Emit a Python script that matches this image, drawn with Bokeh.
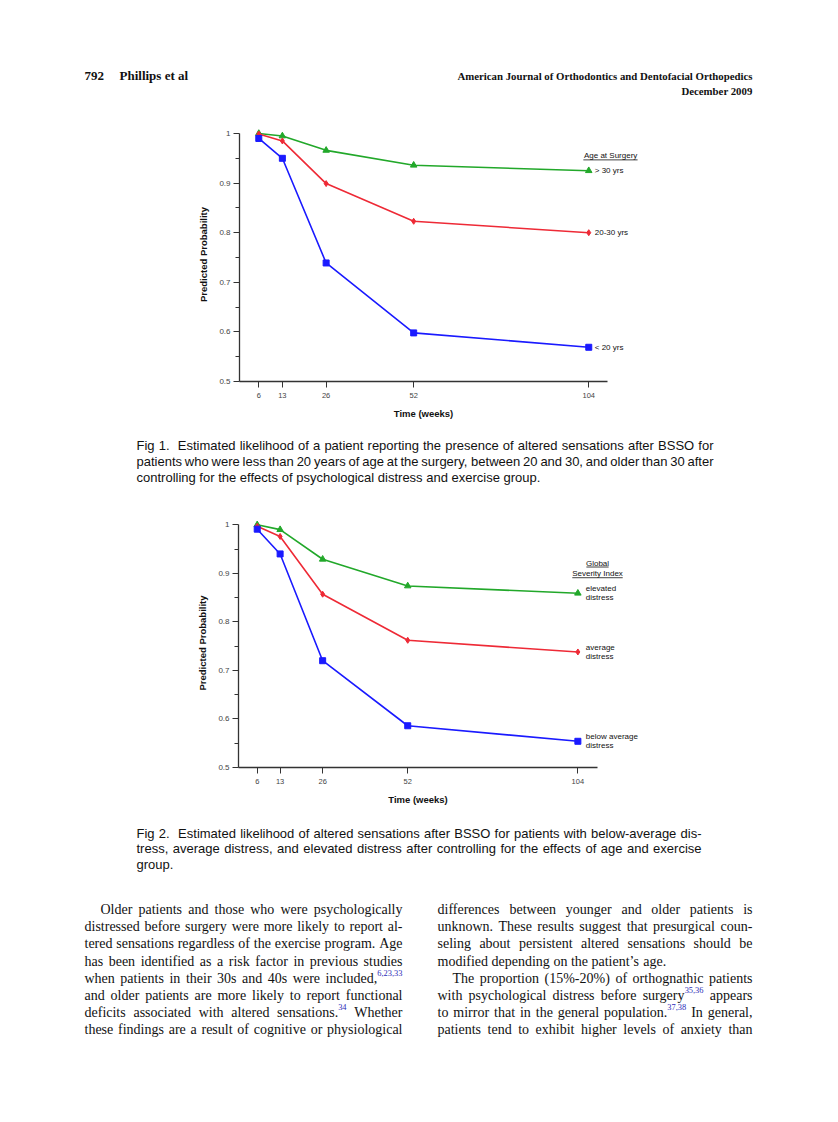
import re
from bokeh.plotting import figure
from bokeh.models import Range1d, FixedTicker, CustomJSTickFormatter
from bokeh.layouts import column
from bokeh.core.properties import value
from bokeh.embed import file_html
from bokeh.resources import INLINE

# ---------------- data ----------------
weeks = [6, 13, 26, 52, 104]
y_ticks = [0.5, 0.6, 0.7, 0.8, 0.9, 1.0]
y_minor = [0.55, 0.65, 0.75, 0.85, 0.95]

fig1_gt30 = [1.000, 0.995, 0.966, 0.936, 0.925]
fig1_20to30 = [0.999, 0.985, 0.899, 0.823, 0.800]
fig1_lt20 = [0.990, 0.950, 0.739, 0.598, 0.569]
fig1_labels = ["> 30 yrs", "20-30 yrs", "< 20 yrs"]
fig1_title = "Age at Surgery"

fig2_elevated = [1.000, 0.990, 0.929, 0.874, 0.859]
fig2_average = [0.997, 0.976, 0.857, 0.762, 0.738]
fig2_below = [0.991, 0.940, 0.720, 0.586, 0.554]
fig2_labels = [["elevated", "distress"], ["average", "distress"], ["below average", "distress"]]
fig2_title = ["Global", "Severity Index"]

header_left = ["792", "Phillips et al"]
header_right = ["American Journal of Orthodontics and Dentofacial Orthopedics", "December 2009"]

caption1 = [
    "Fig 1.  Estimated likelihood of a patient reporting the presence of altered sensations after BSSO for",
    "patients who were less than 20 years of age at the surgery, between 20 and 30, and older than 30 after",
    "controlling for the effects of psychological distress and exercise group.",
]
caption2 = [
    "Fig 2.  Estimated likelihood of altered sensations after BSSO for patients with below-average dis-",
    "tress, average distress, and elevated distress after controlling for the effects of age and exercise",
    "group.",
]
body_left = [
    "Older patients and those who were psychologically",
    "distressed before surgery were more likely to report al-",
    "tered sensations regardless of the exercise program. Age",
    "has been identified as a risk factor in previous studies",
    "when patients in their 30s and 40s were included,{6,23,33}",
    "and older patients are more likely to report functional",
    "deficits associated with altered sensations.{34} Whether",
    "these findings are a result of cognitive or physiological",
]
body_right = [
    "differences between younger and older patients is",
    "unknown. These results suggest that presurgical coun-",
    "seling about persistent altered sensations should be",
    "modified depending on the patient\u2019s age.",
    "The proportion (15%-20%) of orthognathic patients",
    "with psychological distress before surgery{35,36} appears",
    "to mirror that in the general population.{37,38} In general,",
    "patients tend to exhibit higher levels of anxiety than",
]

# ---------------- font metrics (per 1000 em) ----------------
TIMES = {' ': 250, '!': 333, '%': 833, "'": 333, '\u2019': 333, '(': 333, ')': 333, ',': 250, '-': 333,
         '.': 250, ':': 278, ';': 278, 'A': 722, 'B': 667, 'C': 667, 'D': 722, 'E': 611, 'F': 556,
         'G': 722, 'H': 722, 'I': 333, 'J': 389, 'K': 722, 'L': 611, 'M': 889, 'N': 722, 'O': 722,
         'P': 556, 'Q': 722, 'R': 667, 'S': 556, 'T': 611, 'U': 722, 'V': 722, 'W': 944, 'X': 722,
         'Y': 722, 'Z': 611, 'a': 444, 'b': 500, 'c': 444, 'd': 500, 'e': 444, 'f': 333, 'g': 500,
         'h': 500, 'i': 278, 'j': 278, 'k': 500, 'l': 278, 'm': 778, 'n': 500, 'o': 500, 'p': 500,
         'q': 500, 'r': 333, 's': 389, 't': 278, 'u': 500, 'v': 500, 'w': 722, 'x': 500, 'y': 500,
         'z': 444}
for d in "0123456789":
    TIMES[d] = 500
HELV = {' ': 278, '!': 278, '%': 889, '(': 333, ')': 333, ',': 278, '-': 333, '.': 278, ':': 278,
        'A': 667, 'B': 667, 'C': 722, 'D': 722, 'E': 667, 'F': 611, 'G': 778, 'H': 722, 'I': 278,
        'J': 500, 'K': 667, 'L': 556, 'M': 833, 'N': 722, 'O': 778, 'P': 667, 'Q': 778, 'R': 722,
        'S': 667, 'T': 611, 'U': 722, 'V': 667, 'W': 944, 'X': 667, 'Y': 667, 'Z': 611, 'a': 556,
        'b': 556, 'c': 500, 'd': 556, 'e': 556, 'f': 278, 'g': 556, 'h': 556, 'i': 222, 'j': 222,
        'k': 500, 'l': 222, 'm': 833, 'n': 556, 'o': 556, 'p': 556, 'q': 556, 'r': 333, 's': 500,
        't': 278, 'u': 556, 'v': 500, 'w': 722, 'x': 500, 'y': 500, 'z': 500}
for d in "0123456789":
    HELV[d] = 556


def tw(s, size, table):
    return sum(table.get(c, 500) for c in s) * size / 1000.0


def set_lines(lines, x0, x1, baselines, size, table, justify, indents=None, sup_scale=0.6):
    xs, ys, ts, sx, sy, st = [], [], [], [], [], []
    for i, line in enumerate(lines):
        start = x0 + (indents[i] if indents else 0)
        toks = line.split(" ")
        parsed = []
        for t in toks:
            m = re.match(r"^(.*?)\{([^}]*)\}$", t)
            if m:
                parsed.append((m.group(1), m.group(2)))
            else:
                parsed.append((t, ""))
        widths = [tw(a, size, table) + tw(b, size * sup_scale, table) for a, b in parsed]
        n = len(parsed)
        if justify[i] and n > 1:
            gap = (x1 - start - sum(widths)) / (n - 1)
        else:
            gap = table[' '] * size / 1000.0
        x = start
        for (a, b), w in zip(parsed, widths):
            if a:
                xs.append(x); ys.append(baselines[i]); ts.append(a)
            if b:
                sx.append(x + tw(a, size, table)); sy.append(baselines[i] - size * 0.38); st.append(b)
            x += w + gap
    return (xs, ys, ts), (sx, sy, st)


W = 830


def text_fig(h, top):
    p = figure(width=W, height=h, x_range=Range1d(0, W), y_range=Range1d(top + h, top),
               x_axis_type=None, y_axis_type=None, toolbar_location=None, output_backend="svg",
               min_border=0, title=None, frame_align=False)
    p.outline_line_color = None
    p.background_fill_color = "white"
    return p


INK = "#111111"

# ---------------- header ----------------
ph = text_fig(115, 0)
ph.text(x=[84, 119], y=[75.3, 75.3], text=header_left, text_font=value("Liberation Serif"),
        text_font_size="13px", text_font_style="bold", text_color=INK, text_baseline="alphabetic")
ph.text(x=[752, 752], y=[75.3, 90], text=header_right, text_font=value("Liberation Serif"),
        text_font_size="10.8px", text_font_style="bold", text_color=INK, text_baseline="alphabetic",
        text_align="right")


# ---------------- charts ----------------
GREEN = "#22a82a"
RED = "#ee2a36"
BLUE = "#1a1aff"
SANS = "Liberation Sans"


def chart(h, L, fw, T, B, x0, ppw, ppu, series):
    fh = h - T - B
    p = figure(width=W, height=h, x_range=Range1d(x0, x0 + fw / ppw),
               y_range=Range1d(0.5, 0.5 + fh / ppu), min_border_left=L, min_border_right=W - L - fw,
               min_border_top=T, min_border_bottom=B, toolbar_location=None,
               output_backend="svg", title=None, frame_align=False)
    p.outline_line_color = None
    p.grid.visible = False
    p.xaxis.ticker = FixedTicker(ticks=weeks)
    p.yaxis.ticker = FixedTicker(ticks=y_ticks, minor_ticks=y_minor)
    p.yaxis.bounds = (0.5, 1.0)
    p.yaxis.formatter = CustomJSTickFormatter(
        code="return Math.abs(tick-1)<1e-9 ? '1' : tick.toFixed(1);")
    for ax in (p.xaxis[0], p.yaxis[0]):
        ax.axis_line_color = "#333333"
        ax.axis_line_width = 1.3
        ax.major_tick_line_color = "#333333"
        ax.minor_tick_line_color = "#333333"
        ax.major_tick_out = 6
        ax.major_tick_in = 0
        ax.minor_tick_out = 4
        ax.minor_tick_in = 0
        ax.major_label_text_font = SANS
        ax.major_label_text_color = "#444444"
        ax.axis_label_text_font = SANS
        ax.axis_label_text_font_size = "9.5px"
        ax.axis_label_text_font_style = "bold"
        ax.axis_label_text_color = "#111111"
    p.xaxis.major_label_text_font_size = "7.5px"
    p.yaxis.major_label_text_font_size = "8px"
    p.xaxis.minor_tick_line_color = None
    p.xaxis.axis_label = "Time (weeks)"
    p.yaxis.axis_label = "Predicted Probability"
    p.yaxis.major_label_standoff = 3
    p.yaxis.axis_label_standoff = 7
    p.xaxis.major_label_standoff = 5
    p.xaxis.axis_label_standoff = 7
    for vals, col, mk, sz in series:
        p.line(weeks, vals, line_color=col, line_width=1.6)
        p.scatter(weeks, vals, marker=mk, size=sz, fill_color=col, line_color=col)
    return p


def free(r):
    r.level = "annotation"
    return r


# chart 1
p1 = chart(310, 239, 368, 12, 44, 0.27, 3.367, 496.0,
           [(fig1_gt30, GREEN, "triangle", 6.5), (fig1_20to30, RED, "diamond", 6),
            (fig1_lt20, BLUE, "square", 6)])
last1 = [fig1_gt30[-1], fig1_20to30[-1], fig1_lt20[-1]]
free(p1.text(x=[weeks[-1]] * 3, y=last1, text=fig1_labels, x_offset=6, text_font=value(SANS),
             text_font_size="8px", text_baseline="middle", text_color=INK))
free(p1.text(x=[110.5], y=[0.9556], text=[fig1_title], text_font=value(SANS), text_font_size="8px",
             text_baseline="middle", text_align="center", text_color=INK))
free(p1.segment(x0=[102.4], y0=[0.9468], x1=[118.5], y1=[0.9468], line_color=INK, line_width=0.8))

# caption 1
pc1 = text_fig(75, 425)
(cx, cy, ct), _ = set_lines(caption1, 136, 713, [444.7, 460.6, 476.5], 13, HELV, [True, True, False])
pc1.text(x=cx, y=cy, text=ct, text_font=value(SANS), text_font_size="13px", text_color=INK,
         text_baseline="alphabetic")

# chart 2
p2 = chart(315, 238, 359, 18, 48, 0.28, 3.272, 485.4,
           [(fig2_elevated, GREEN, "triangle", 6.5), (fig2_average, RED, "diamond", 6),
            (fig2_below, BLUE, "square", 6)])
last2 = [fig2_elevated[-1], fig2_average[-1], fig2_below[-1]]
free(p2.text(x=[weeks[-1]] * 3, y=last2, text=[l[0] for l in fig2_labels], x_offset=8, y_offset=-4.3,
             text_font=value(SANS), text_font_size="8px", text_baseline="middle", text_color=INK))
free(p2.text(x=[weeks[-1]] * 3, y=last2, text=[l[1] for l in fig2_labels], x_offset=8, y_offset=4.3,
             text_font=value(SANS), text_font_size="8px", text_baseline="middle", text_color=INK))
free(p2.text(x=[110.0, 110.0], y=[0.921, 0.899], text=fig2_title, text_font=value(SANS),
             text_font_size="8px", text_baseline="middle", text_align="center", text_color=INK))
free(p2.segment(x0=[106.6, 102.3], y0=[0.913, 0.891], x1=[113.4, 117.7], y1=[0.913, 0.891],
                line_color=INK, line_width=0.8))

# caption 2 + body
pb = text_fig(303, 815)
(cx, cy, ct), _ = set_lines(caption2, 136, 701, [832.5, 848.2, 863.6], 13, HELV, [True, True, False])
pb.text(x=cx, y=cy, text=ct, text_font=value(SANS), text_font_size="13px", text_color=INK,
        text_baseline="alphabetic")
body_base = [905 + 4 + 17.2 * i for i in range(8)]
(lx, ly, lt), (lsx, lsy, lst) = set_lines(body_left, 84, 402, body_base, 14, TIMES, [True] * 8,
                                          indents=[16, 0, 0, 0, 0, 0, 0, 0])
(rx, ry, rt), (rsx, rsy, rst) = set_lines(body_right, 437, 752, body_base, 14, TIMES,
                                          [True, True, True, False, True, True, True, True],
                                          indents=[0, 0, 0, 0, 15, 0, 0, 0])
pb.text(x=lx + rx, y=ly + ry, text=lt + rt, text_font=value("Liberation Serif"),
        text_font_size="14px", text_color=INK, text_baseline="alphabetic")
pb.text(x=lsx + rsx, y=lsy + rsy, text=lst + rst, text_font=value("Liberation Serif"),
        text_font_size="8.4px", text_color="#2b2bb8", text_baseline="alphabetic")

page = column(ph, p1, pc1, p2, pb, spacing=0)
open("out.html", "w").write(file_html(page, INLINE))
